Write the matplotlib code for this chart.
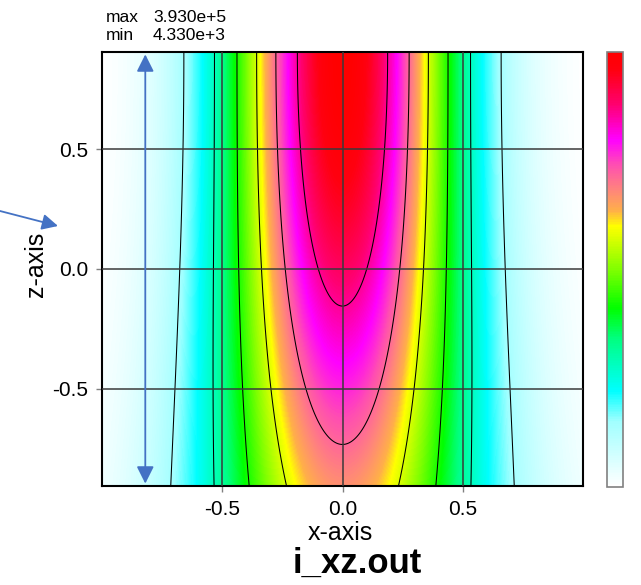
import numpy as np
import matplotlib
matplotlib.use("Agg")
import matplotlib.pyplot as plt
from matplotlib.colors import LinearSegmentedColormap, Normalize
from matplotlib.colorbar import ColorbarBase

# values
I_MAX = 3.930e5          # "max" printed above the plot
I_MIN = 4.330e3          # "min" printed above the plot
W0 = 0.68                # beam radius at the top edge (x units)
Z_FOCUS = 0.9            # focus sits at the top edge
Z_RAYLEIGH = 2.6         # from how fast the centre fades downwards
N_BANDS = 7              # contour lines split the range in 7 equal steps

x_lim = [-1.0, 1.0]
z_lim = [-0.905, 0.905]
x_ticks = [-0.5, 0.0, 0.5]
z_ticks = [-0.5, 0.0, 0.5]

# colour stops of the bar on the right (fraction, colour)
cmap_stops = [
    (0.00, "#ffffff"), (0.15, "#a0ffff"), (0.22, "#00ffff"),
    (0.34, "#00ff80"), (0.41, "#00ff00"), (0.50, "#80ff00"),
    (0.60, "#ffff00"), (0.635, "#ffb048"), (0.68, "#ff8878"),
    (0.74, "#ff50b0"), (0.80, "#ff00ff"), (0.88, "#ff0070"),
    (0.96, "#ff0010"), (1.00, "#ff0000"),
]
cmap = LinearSegmentedColormap.from_list("beam", cmap_stops)

# gaussian beam intensity in the xz plane
x = np.linspace(x_lim[0], x_lim[1], 481)
z = np.linspace(z_lim[0], z_lim[1], 435)
X, Z = np.meshgrid(x, z)
u = (Z - Z_FOCUS) / Z_RAYLEIGH
w = W0 * np.sqrt(1 + u ** 2)
field = I_MAX / (1 + u ** 2) * np.exp(-2 * X ** 2 / w ** 2)

levels = [I_MIN + k * (I_MAX - I_MIN) / N_BANDS for k in range(1, N_BANDS)]
norm = Normalize(vmin=I_MIN, vmax=I_MAX)

W, H = 641, 585
fig = plt.figure(figsize=(W / 100, H / 100), dpi=100)
plt.rcParams['font.family'] = ['Liberation Sans', 'DejaVu Sans']

ax = fig.add_axes([102 / W, 1 - 486 / H, 481 / W, 434 / H])
ax.imshow(field, cmap=cmap, norm=norm, origin='lower', aspect='auto',
          extent=[x_lim[0], x_lim[1], z_lim[0], z_lim[1]], interpolation='bilinear')
ax.contour(X, Z, field, levels=levels, colors='black', linewidths=0.75)
for t in x_ticks:
    ax.axvline(t, color='#3a3a3a', lw=1.1, zorder=3)
for t in z_ticks:
    ax.axhline(t, color='#3a3a3a', lw=1.1, zorder=3)
ax.set_xlim(x_lim)
ax.set_ylim(z_lim)
ax.set_xticks(x_ticks)
ax.set_yticks(z_ticks)
ax.set_xticklabels([f"{t:.1f}" for t in x_ticks])
ax.set_yticklabels([f"{t:.1f}" for t in z_ticks])
ax.tick_params(direction='out', length=4, width=1, color='#808080',
               labelsize=15, pad=6)
for s in ax.spines.values():
    s.set_linewidth(1.5)
    s.set_color('black')

ax.set_xlabel('x-axis', fontsize=18)
ax.xaxis.set_label_coords(0.4965, -0.1244)
ax.xaxis.label.set_va('baseline')
ax.set_ylabel('z-axis', fontsize=18)
ax.yaxis.set_label_coords(-0.138, 0.51)
ax.yaxis.label.set_va('center')

# blue double arrow inside the plot
ax.annotate('', xy=(-0.82, z_lim[0] + 0.01), xytext=(-0.82, z_lim[1] - 0.01),
            arrowprops=dict(arrowstyle='<|-|>', color='#4472c4', lw=1.3,
                            mutation_scale=26, shrinkA=0, shrinkB=0), zorder=5)
# blue arrow pointing at the z label
fig.add_artist(matplotlib.patches.FancyArrowPatch(
    (0 / W, 1 - 211 / H), (58 / W, 1 - 226 / H), transform=fig.transFigure,
    arrowstyle='-|>', color='#4472c4', lw=1.3, mutation_scale=24,
    shrinkA=0, shrinkB=0))

fig.text(106 / W, 1 - 21.5 / H, 'max', fontsize=12.5, va='baseline')
fig.text(153 / W, 1 - 21.5 / H, f"{I_MAX:.3e}".replace('e+0', 'e+'), fontsize=12.5, va='baseline')
fig.text(106 / W, 1 - 39.5 / H, 'min', fontsize=12.5, va='baseline')
fig.text(153 / W, 1 - 39.5 / H, f"{I_MIN:.3e}".replace('e+0', 'e+'), fontsize=12.5, va='baseline')

fig.text(357 / W, 1 - 573 / H, 'i_xz.out', fontsize=25, fontweight='bold',
         ha='center', va='baseline')

cax = fig.add_axes([607 / W, 1 - 487 / H, 16 / W, 435 / H])
cb = ColorbarBase(cax, cmap=cmap, norm=norm, orientation='vertical')
cb.set_ticks([])
cb.outline.set_edgecolor('#808080')
cb.outline.set_linewidth(1.2)

fig.savefig('out.png', dpi=100)
